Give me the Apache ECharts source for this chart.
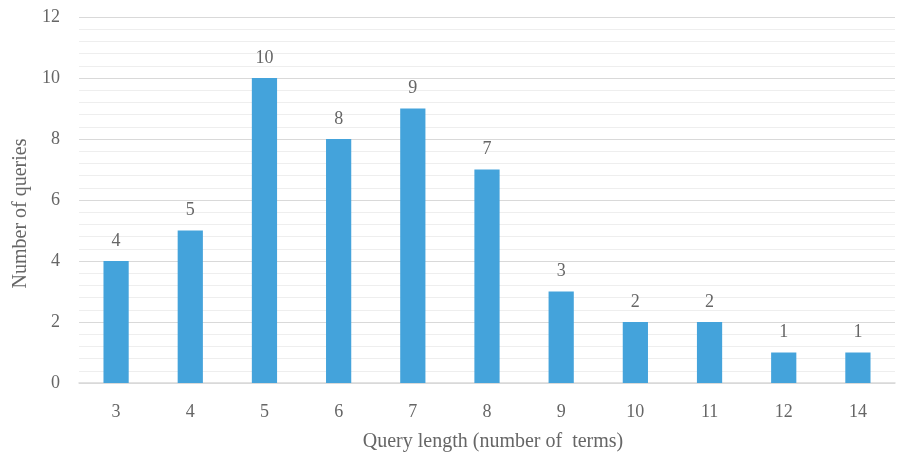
<!DOCTYPE html>
<html><head><meta charset="utf-8">
<script src="https://cdn.jsdelivr.net/npm/echarts@6/dist/echarts.min.js"></script>
<style>html,body{margin:0;padding:0;background:#fff}#c{width:899px;height:454px}</style>
</head><body><div id="c"></div>
<script>
const categories = ['3','4','5','6','7','8','9','10','11','12','14'];
const values = [4,5,10,8,9,7,3,2,2,1,1];
const yTicks = [0,2,4,6,8,10,12];
const chart = echarts.init(document.getElementById('c'));
const font = 'Liberation Serif';
const tc = '#666666';
chart.setOption({
  animation:false,
  grid:{left:79,right:4,top:17,bottom:71,outerBoundsMode:'none',containLabel:false},
  xAxis:{type:'category',data:categories,
    name:'Query length (number of  terms)',nameLocation:'middle',nameGap:49,
    nameTextStyle:{fontFamily:font,fontSize:20,color:tc,padding:[0,0,0,12]},
    axisLine:{lineStyle:{color:'#d9d9d9',width:1.5}},axisTick:{show:false},
    axisLabel:{fontFamily:font,fontSize:18,color:tc,margin:20}},
  yAxis:{type:'value',min:0,max:12,interval:2,
    name:'Number of queries',nameLocation:'middle',nameGap:46,
    nameTextStyle:{fontFamily:font,fontSize:20,color:tc,padding:[0,27,0,0]},
    axisLine:{show:false},axisTick:{show:false},
    axisLabel:{fontFamily:font,fontSize:18,color:tc,margin:19,
      formatter:v=>yTicks.includes(v)?String(v):''},
    splitLine:{lineStyle:{color:'#d9d9d9',width:1}},
    minorTick:{show:false,splitNumber:5},
    minorSplitLine:{show:true,lineStyle:{color:'#eeeeee',width:1}}},
  series:[{type:'bar',data:values,barWidth:'34%',
    itemStyle:{color:'#44a3db'},
    label:{show:true,position:'top',distance:11,fontFamily:font,fontSize:18,color:tc}}]
});
</script></body></html>
